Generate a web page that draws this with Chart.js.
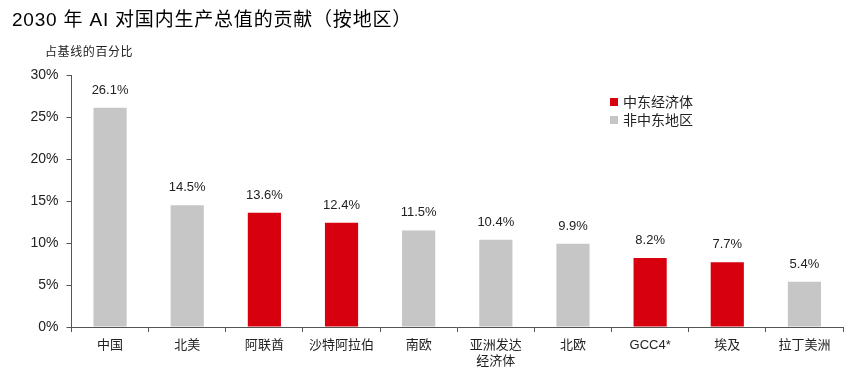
<!DOCTYPE html>
<html>
<head>
<meta charset="utf-8">
<script src="https://cdn.jsdelivr.net/npm/chart.js@4/dist/chart.umd.min.js"></script>
<style>
  html, body { margin: 0; padding: 0; background: #fff; }
  #wrap { position: relative; width: 854px; height: 369px; font-family: "Liberation Sans", "Noto Sans CJK SC", sans-serif; }
  #title { position: absolute; left: 12px; top: 4px; font-size: 19px; letter-spacing: 0.8px; color: #000; white-space: nowrap; }
  #sub { position: absolute; left: 45px; top: 42px; font-size: 12px; color: #222; letter-spacing: 0.6px; }
  #legend { position: absolute; left: 610px; top: 93px; font-size: 14px; color: #222; }
  #legend div { height: 18px; line-height: 18px; white-space: nowrap; }
  #legend span { display: inline-block; width: 8px; height: 8px; margin-right: 5px; vertical-align: 1px; }
  canvas { position: absolute; left: 0; top: 0; }
</style>
</head>
<body>
<div id="wrap">
  <canvas id="barChart" width="854" height="369"></canvas>
  <div id="title">2030 年 AI 对国内生产总值的贡献（按地区）</div>
  <div id="sub">占基线的百分比</div>
  <div id="legend"></div>
</div>
<script>
// 数据
const categories = ['中国', '北美', '阿联酋', '沙特阿拉伯', '南欧', ['亚洲发达', '经济体'], '北欧', 'GCC4*', '埃及', '拉丁美洲'];
const values = [26.1, 14.5, 13.6, 12.4, 11.5, 10.4, 9.9, 8.2, 7.7, 5.4];
const isMiddleEast = [false, false, true, true, false, false, false, true, true, false];
const yTicks = [0, 5, 10, 15, 20, 25, 30];
const seriesNames = ['中东经济体', '非中东地区'];

const RED = '#d7000f';
const GREY = '#c6c6c6';
const FONT = '"Liberation Sans", "Noto Sans CJK SC", sans-serif';

const meData = values.map((v, i) => isMiddleEast[i] ? v : null);
const otherData = values.map((v, i) => isMiddleEast[i] ? null : v);

// 柱顶数值标签
const valueLabels = {
    id: 'valueLabels',
    afterDatasetsDraw(chart) {
        const ctx = chart.ctx;
        ctx.save();
        ctx.font = '13px ' + FONT;
        ctx.fillStyle = '#222';
        ctx.textAlign = 'center';
        ctx.textBaseline = 'bottom';
        chart.data.datasets.forEach((ds, di) => {
            const meta = chart.getDatasetMeta(di);
            meta.data.forEach((bar, i) => {
                const v = ds.data[i];
                if (v === null || v === undefined) return;
                ctx.fillText(v.toFixed(1) + '%', bar.x, bar.y - 11);
            });
        });
        ctx.restore();
    }
};

const ctx = document.getElementById('barChart').getContext('2d');
const chart = new Chart(ctx, {
    type: 'bar',
    data: {
        labels: categories,
        datasets: [
            { label: seriesNames[0], data: meData, backgroundColor: RED, borderWidth: 0 },
            { label: seriesNames[1], data: otherData, backgroundColor: GREY, borderWidth: 0 }
        ]
    },
    options: {
        responsive: false,
        animation: false,
        devicePixelRatio: 1,
        layout: { padding: { top: 75, right: 11, bottom: 0, left: 0 } },
        datasets: { bar: { grouped: false, categoryPercentage: 1, barPercentage: 0.43, skipNull: true } },
        plugins: {
            legend: { display: false },
            tooltip: { enabled: false }
        },
        scales: {
            x: {
                grid: { display: true, drawOnChartArea: false, drawTicks: true, tickLength: 5, color: '#555', offset: true },
                border: { display: true, color: '#555', width: 1 },
                ticks: { color: '#222', font: { family: FONT, size: 13 }, padding: 6, maxRotation: 0, autoSkip: false },
                afterFit(scale) { scale.height = 42; }
            },
            y: {
                min: 0,
                max: 30,
                afterBuildTicks(scale) { scale.ticks = yTicks.map(v => ({ value: v })); },
                grid: { display: true, drawOnChartArea: false, drawTicks: true, tickLength: 5, color: '#555' },
                border: { display: true, color: '#555', width: 1 },
                ticks: {
                    color: '#222',
                    font: { family: FONT, size: 14 },
                    padding: 8,
                    callback: v => v + '%'
                },
                afterFit(scale) { scale.width = 71.5; }
            }
        }
    },
    plugins: [valueLabels]
});

// 图例
const legendEl = document.getElementById('legend');
chart.data.datasets.forEach(ds => {
    const row = document.createElement('div');
    const box = document.createElement('span');
    box.style.background = ds.backgroundColor;
    row.appendChild(box);
    row.appendChild(document.createTextNode(ds.label));
    legendEl.appendChild(row);
});
</script>
</body>
</html>
